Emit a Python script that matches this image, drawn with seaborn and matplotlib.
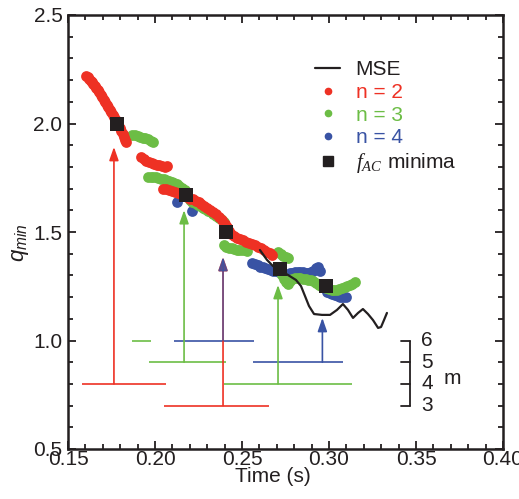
import matplotlib
matplotlib.use("Agg")
import matplotlib.pyplot as plt
import seaborn as sns
from matplotlib.lines import Line2D
from matplotlib.ticker import MultipleLocator, FormatStrFormatter

# ---------------- data ----------------
red_t = [0.1605, 0.1613, 0.1621, 0.1630, 0.1638, 0.1646, 0.1655, 0.1663, 0.1671, 0.1680,
         0.1688, 0.1697, 0.1705, 0.1714, 0.1722, 0.1731, 0.1740, 0.1748, 0.1757, 0.1765,
         0.1774, 0.1782, 0.1790, 0.1799, 0.1806, 0.1814, 0.1822, 0.1830, 0.1836,
         0.1920, 0.1935, 0.1950, 0.1965, 0.1980, 0.1995, 0.2010, 0.2025, 0.2040, 0.2055, 0.2070,
         0.2046, 0.2063, 0.2080, 0.2097, 0.2114, 0.2131, 0.2148, 0.2165, 0.2182, 0.2199,
         0.2216, 0.2233, 0.2250, 0.2267, 0.2284, 0.2301, 0.2318, 0.2335, 0.2352, 0.2369,
         0.2386, 0.2400, 0.2412, 0.2424, 0.2438, 0.2455, 0.2472, 0.2489, 0.2506, 0.2523,
         0.2540, 0.2557, 0.2574, 0.2591, 0.2608, 0.2625, 0.2642, 0.2659, 0.2672]
red_q = [2.218, 2.213, 2.205, 2.197, 2.190, 2.181, 2.171, 2.162, 2.153, 2.143,
         2.132, 2.121, 2.110, 2.098, 2.087, 2.075, 2.063, 2.052, 2.040, 2.029,
         2.017, 2.006, 1.992, 1.979, 1.966, 1.952, 1.936, 1.924, 1.917,
         1.845, 1.836, 1.828, 1.821, 1.817, 1.814, 1.811, 1.808, 1.804, 1.800, 1.805,
         1.699, 1.696, 1.693, 1.690, 1.686, 1.680, 1.674, 1.667, 1.660, 1.654,
         1.650, 1.645, 1.638, 1.630, 1.620, 1.611, 1.602, 1.593, 1.581, 1.568,
         1.553, 1.537, 1.521, 1.503, 1.490, 1.481, 1.474, 1.467, 1.461, 1.454,
         1.449, 1.444, 1.438, 1.431, 1.424, 1.417, 1.409, 1.401, 1.395]

green_t = [0.1870, 0.1885, 0.1900, 0.1915, 0.1930, 0.1945, 0.1960, 0.1975, 0.1990,
           0.1960, 0.1975, 0.1990, 0.2005, 0.2020, 0.2035, 0.2050, 0.2065, 0.2080, 0.2095,
           0.2110, 0.2125, 0.2140, 0.2155, 0.2170, 0.2185,
           0.2200, 0.2215, 0.2230, 0.2245, 0.2260, 0.2275, 0.2290, 0.2305, 0.2320, 0.2335,
           0.2350, 0.2365, 0.2380, 0.2395,
           0.2395, 0.2410, 0.2425, 0.2440, 0.2455, 0.2470, 0.2485, 0.2500, 0.2515, 0.2528,
           0.2707, 0.2722, 0.2736, 0.2750, 0.2764,
           0.2728, 0.2740, 0.2752, 0.2762, 0.2775, 0.2790, 0.2805, 0.2820, 0.2835, 0.2850,
           0.2865, 0.2880, 0.2895, 0.2910, 0.2925, 0.2940, 0.2955, 0.2970, 0.2985, 0.3000,
           0.3015, 0.3030, 0.3045, 0.3060, 0.3075, 0.3090, 0.3105, 0.3120, 0.3135, 0.3150]
green_q = [1.948, 1.945, 1.942, 1.938, 1.934, 1.931, 1.927, 1.921, 1.914,
           1.754, 1.754, 1.753, 1.752, 1.749, 1.746, 1.742, 1.738, 1.734, 1.730,
           1.725, 1.719, 1.711, 1.703, 1.693, 1.681,
           1.647, 1.640, 1.633, 1.625, 1.618, 1.611, 1.604, 1.597, 1.590, 1.582,
           1.574, 1.566, 1.558, 1.548,
           1.438, 1.432, 1.428, 1.424, 1.421, 1.419, 1.417, 1.416, 1.415, 1.414,
           1.408, 1.399, 1.390, 1.385, 1.380,
           1.300, 1.285, 1.268, 1.260, 1.275, 1.283, 1.286, 1.288, 1.286, 1.284,
           1.282, 1.281, 1.278, 1.272, 1.265, 1.258, 1.252, 1.246, 1.240, 1.236,
           1.234, 1.233, 1.234, 1.237, 1.241, 1.245, 1.250, 1.256, 1.262, 1.270]

blue_t = [0.2125, 0.2213,
          0.2560, 0.2575, 0.2590, 0.2605, 0.2620, 0.2635, 0.2650, 0.2665, 0.2680, 0.2695, 0.2710,
          0.2775, 0.2790, 0.2805, 0.2820, 0.2835, 0.2850, 0.2865, 0.2880, 0.2895, 0.2910,
          0.2925, 0.2937, 0.2950,
          0.2990, 0.3005, 0.3020, 0.3035, 0.3050, 0.3065, 0.3080, 0.3095]
blue_q = [1.636, 1.597,
          1.358, 1.352, 1.346, 1.341, 1.337, 1.333, 1.329, 1.325, 1.321, 1.318, 1.315,
          1.311, 1.313, 1.315, 1.316, 1.315, 1.314, 1.312, 1.311, 1.315, 1.320,
          1.332, 1.339, 1.322,
          1.222, 1.218, 1.213, 1.208, 1.204, 1.201, 1.200, 1.201]

mse_t = [0.2603, 0.2644, 0.2678, 0.2718, 0.2764, 0.2810, 0.2839, 0.2862, 0.2885, 0.2914,
         0.2960, 0.3006, 0.3046, 0.3080, 0.3109, 0.3138, 0.3167, 0.3195, 0.3224, 0.3253,
         0.3282, 0.3299, 0.3316, 0.3333]
mse_q = [1.417, 1.371, 1.343, 1.325, 1.302, 1.279, 1.251, 1.205, 1.159, 1.122,
         1.118, 1.118, 1.141, 1.168, 1.141, 1.104, 1.127, 1.145, 1.122, 1.094,
         1.058, 1.062, 1.094, 1.127]

min_t = [0.178, 0.218, 0.241, 0.272, 0.298]
min_q = [2.00, 1.67, 1.50, 1.33, 1.25]

# mode-number scale (m) and corresponding plotting level
m_values = [3, 4, 5, 6]
m_levels = [0.7, 0.8, 0.9, 1.0]

# arrows: series, time, m, tip q
arrow_series = ["n2", "n3", "n2", "n4", "n3", "n4"]
arrow_t = [0.1764, 0.2167, 0.2391, 0.2391, 0.2707, 0.2962]
arrow_m = [4, 5, 3, 6, 4, 5]
arrow_tip = [1.892, 1.601, 1.385, 1.385, 1.256, 1.104]

# horizontal ranges: series, m, start, end
span_series = ["n2", "n3", "n3", "n4", "n2", "n3", "n4"]
span_m = [4, 6, 5, 6, 3, 4, 5]
span_t0 = [0.1580, 0.1868, 0.1966, 0.2109, 0.2052, 0.2397, 0.2563]
span_t1 = [0.2063, 0.1977, 0.2408, 0.2569, 0.2655, 0.3132, 0.3080]

# ---------------- style ----------------
RED = "#ee3124"
GREEN = "#6cbd45"
BLUE = "#3953a4"
BLACK = "#231f20"
colors = {"n2": RED, "n3": GREEN, "n4": BLUE}
level_of = dict(zip(m_values, m_levels))

sns.set_theme(style="ticks")
plt.rcParams['font.family'] = ['Liberation Sans', 'DejaVu Sans']
plt.rcParams['mathtext.fontset'] = 'custom'
plt.rcParams['mathtext.it'] = 'Liberation Sans:italic'
plt.rcParams['mathtext.rm'] = 'Liberation Sans'
plt.rcParams['mathtext.cal'] = 'Liberation Serif:italic'

fig = plt.figure(figsize=(5.19, 4.99), dpi=100)
ax = fig.add_axes([68 / 519, 1 - 449 / 499, 435 / 519, 434 / 499])

# ranges & arrows
for s, m, t0, t1 in zip(span_series, span_m, span_t0, span_t1):
    ax.hlines(level_of[m], t0, t1, color=colors[s], lw=1.2, zorder=1)
for s, t, m, tip in zip(arrow_series, arrow_t, arrow_m, arrow_tip):
    ax.annotate("", xy=(t, tip), xytext=(t, level_of[m]),
                arrowprops=dict(arrowstyle="-|>,head_length=0.8,head_width=0.28",
                                color=colors[s], lw=1.2, shrinkA=0, shrinkB=0,
                                mutation_scale=10,
                                alpha=0.75 if s == "n4" and m == 6 else 1.0),
                zorder=1)

# data points
sns.scatterplot(x=blue_t, y=blue_q, color=BLUE, s=60, linewidth=0, ax=ax, zorder=2)
sns.scatterplot(x=green_t, y=green_q, color=GREEN, s=60, linewidth=0, ax=ax, zorder=3)
sns.scatterplot(x=red_t, y=red_q, color=RED, s=60, linewidth=0, ax=ax, zorder=4)
sns.lineplot(x=mse_t, y=mse_q, sort=False, estimator=None, color=BLACK, lw=1.6, ax=ax, zorder=5)
sns.scatterplot(x=min_t, y=min_q, color=BLACK, marker="s", s=100, linewidth=0, ax=ax, zorder=6)

# m bracket
bx, tl = 0.3466, 0.3414
ax.plot([bx, bx], [min(m_levels), max(m_levels)], color=BLACK, lw=1.3, clip_on=False)
for m, lv in zip(m_values, m_levels):
    ax.plot([tl, bx], [lv, lv], color=BLACK, lw=1.3)
    ax.text(0.3563, lv, str(m), ha="center", va="center", fontsize=15, color=BLACK)
ax.text(0.3707, 0.827, "m", ha="center", va="center", fontsize=15, color=BLACK)

# axes formatting
ax.set_xlim(0.15, 0.40)
ax.set_ylim(0.5, 2.5)
ax.xaxis.set_major_locator(MultipleLocator(0.05))
ax.xaxis.set_minor_locator(MultipleLocator(0.01))
ax.yaxis.set_major_locator(MultipleLocator(0.5))
ax.yaxis.set_minor_locator(MultipleLocator(0.1))
ax.xaxis.set_major_formatter(FormatStrFormatter("%.2f"))
ax.yaxis.set_major_formatter(FormatStrFormatter("%.1f"))
ax.tick_params(which="both", direction="in", top=True, right=True, color=BLACK,
               width=1.3, labelsize=15, labelcolor=BLACK)
ax.tick_params(which="major", length=6)
ax.tick_params(which="minor", length=3.5)
ax.tick_params(axis="x", pad=1)
ax.tick_params(axis="y", pad=4)
for sp in ax.spines.values():
    sp.set_linewidth(1.8)
    sp.set_color(BLACK)

ax.set_xlabel("Time (s)", fontsize=15, color=BLACK)
ax.set_ylabel(r"$q_{min}$", fontsize=16, color=BLACK)
ax.xaxis.set_label_coords(0.471, -0.041)
ax.yaxis.set_label_coords(-0.085, 0.475)

handles = [
    Line2D([], [], color=BLACK, lw=1.6),
    Line2D([], [], ls="", marker="o", color=RED, ms=4.5),
    Line2D([], [], ls="", marker="o", color=GREEN, ms=4.5),
    Line2D([], [], ls="", marker="o", color=BLUE, ms=4.5),
    Line2D([], [], ls="", marker="s", color=BLACK, ms=7.5),
]
labels = ["MSE", "n = 2", "n = 3", "n = 4", r"$\mathcal{f}_{\mathcal{AC}}$ minima"]
leg = ax.legend(handles, labels, loc="upper left", bbox_to_anchor=(0.568, 0.896),
                frameon=False, fontsize=15, handlelength=1.2, handletextpad=0.75,
                labelspacing=0.18, borderpad=0, borderaxespad=0)
for txt, c in zip(leg.get_texts(), [BLACK, RED, GREEN, BLUE, BLACK]):
    txt.set_color(c)

fig.savefig("out.png", dpi=100)
